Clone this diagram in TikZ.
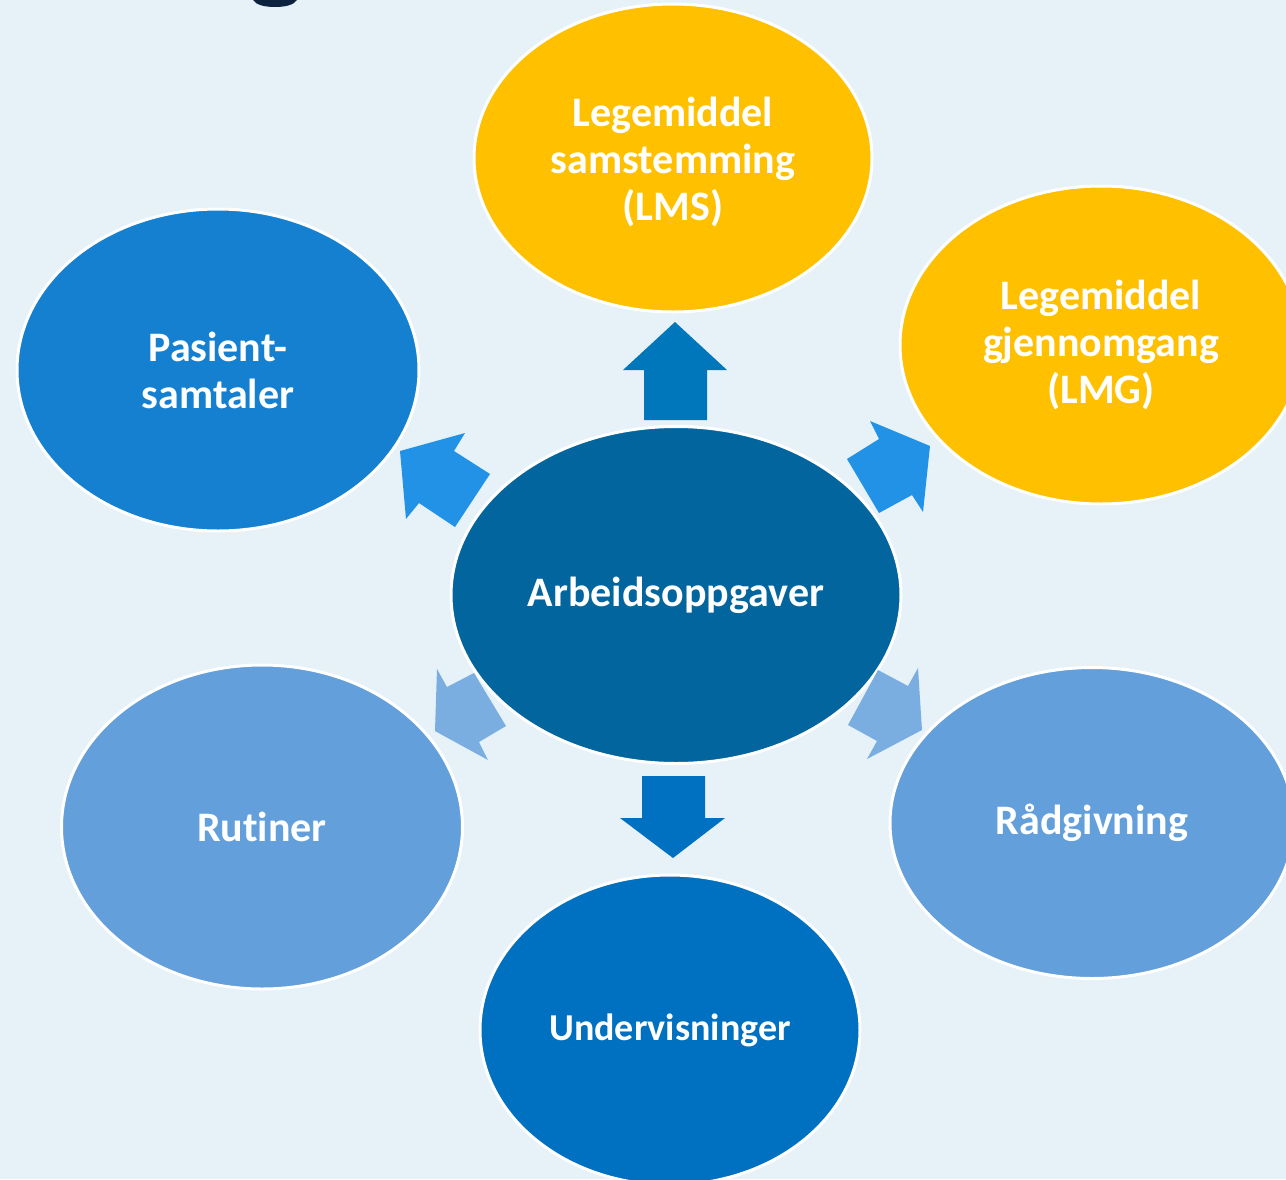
\documentclass[tikz,border=0pt]{standalone}
\usepackage{fontspec}
\setmainfont{Carlito}[Ligatures=NoCommon]
\usetikzlibrary{shapes.geometric}
\definecolor{bgc}{HTML}{E6F1F8}
\definecolor{centerc}{HTML}{03659E}
\definecolor{yellowc}{HTML}{FFC000}
\definecolor{pasc}{HTML}{1580D0}
\definecolor{lightc}{HTML}{63A0DB}
\definecolor{undc}{HTML}{0070C0}
\definecolor{arrtop}{HTML}{0077BB}
\definecolor{arrmid}{HTML}{2292E6}
\definecolor{arrlow}{HTML}{7BAEE0}
\definecolor{arrbot}{HTML}{0070C0}
\definecolor{navy}{HTML}{0C2340}
\tikzset{
  ell/.style={ellipse, draw=white, line width=3pt, inner sep=0pt, text=white, align=center,
    font=\bfseries\fontsize{42}{47}\selectfont},
  blockarrow/.style={draw=none}
}
\begin{document}
\begin{tikzpicture}[x=1pt,y=-1pt]
\useasboundingbox (0,0) rectangle (1286,1179);
\clip (0,0) rectangle (1286,1179);
\fill[bgc] (0,0) rectangle (1286,1179);
% partial title glyph at top edge
\fill[navy] (253,0) .. controls (256,5) and (265,7) .. (275,7) .. controls (285,7) and (294,5) .. (297,0) -- cycle;
% ellipses
\node[ell, fill=yellowc, minimum width=398pt, minimum height=308pt] (lms) at (673,158) {};
\node[text=white, align=center, font=\bfseries\fontsize{42}{47}\selectfont] (lmst) at (673,162) {Legemiddel\\samstemming\\(LMS)};
\node[ell, fill=yellowc, minimum width=402pt, minimum height=318pt] (lmg) at (1101,345) {Legemiddel\\gjennomgang\\(LMG)};
\node[ell, fill=pasc, minimum width=402pt, minimum height=322pt] (pas) at (218,370) {Pasient-\\samtaler};
\node[ell, fill=lightc, minimum width=401pt, minimum height=324pt] (rut) at (262,827) {Rutiner};
\node[ell, fill=lightc, minimum width=404pt, minimum height=311pt] (rad) at (1092,823) {R\r{a}dgivning};
\node[ell, fill=undc, minimum width=380pt, minimum height=310pt, font=\bfseries\fontsize{38}{44}\selectfont] (und) at (670,1030) {Undervisninger};
\node[ell, fill=centerc, minimum width=450pt, minimum height=337pt] (ctr) at (676,595) {Arbeidsoppgaver};
% block arrows
\fill[arrtop] (644,420) -- (644,370) -- (623,370) -- (675,322) -- (727,370) -- (707,370) -- (707,420) -- cycle;
\fill[arrbot] (642,776) -- (642,818) -- (620,818) -- (673,858) -- (725,818) -- (705,818) -- (705,776) -- cycle;
\fill[arrmid] (490,474) -- (454,451) -- (465,433) -- (400,451) -- (406,519) -- (419,503) -- (455,527) -- cycle;
\fill[arrmid] (847,459) -- (879,439) -- (870,421) -- (930,446) -- (923,512) -- (912,495) -- (879,513) -- cycle;
\fill[arrlow] (474,673) -- (447,687) -- (437,669) -- (435,731) -- (488,760) -- (479,742) -- (506,726) -- cycle;
\fill[arrlow] (878,670) -- (908,686) -- (918,668) -- (922,730) -- (867,759) -- (877,741) -- (848,725) -- cycle;
\end{tikzpicture}
\end{document}
